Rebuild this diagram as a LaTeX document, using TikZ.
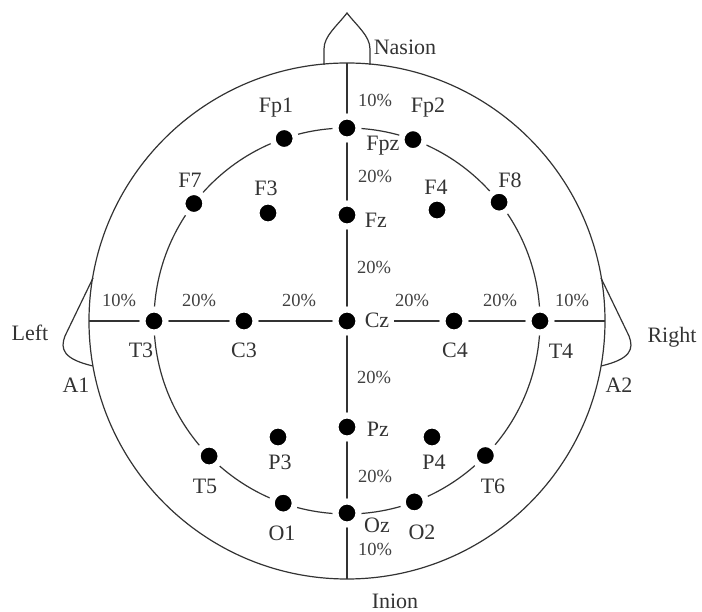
\documentclass[tikz,border=0pt]{standalone}
\usepackage{fontspec}
\setmainfont{Liberation Serif}
\def\rhead{258}
\def\rring{193}

\begin{document}
\begin{tikzpicture}[x=1pt, y=1pt, line width=1.2pt, draw=black!80,
  elec/.style={circle, fill=black, draw=white, line width=6pt, minimum size=23pt, inner sep=0pt},
  tag/.style={font=\fontsize{22}{22}\selectfont, text=black!80, inner sep=1pt},
  pct/.style={font=\fontsize{18.5}{18.5}\selectfont, text=black!75, inner sep=0pt}]
\useasboundingbox (-347,-291) rectangle (355,321);
% head, nose and ears
\draw (0,0) circle (\rhead);
\draw (-23,256) -- (-23,272) .. controls (-23,285) and (-10,295) .. (0,308)
      .. controls (10,295) and (23,285) .. (23,272) -- (23,256);
\draw (-254,43) -- (-282,-15) .. controls (-287,-28) and (-284,-38) .. (-254,-45);
\draw[xscale=-1] (-254,43) -- (-282,-15) .. controls (-287,-28) and (-284,-38) .. (-254,-45);
\coordinate (nasion) at (0,\rhead);
\coordinate (inion) at (0,-\rhead);
\coordinate (left) at (-\rhead,0);
\coordinate (right) at (\rhead,0);
\draw (nasion) -- (inion);
\draw (left) -- (right);
\draw (0,0) circle (\rring);

% electrodes on the ring
\node[elec] (Fpz) at (90:\rring) {};
\node[elec] (Fp1) at (109:\rring) {};
\node[elec] (Fp2) at (70:\rring) {};
\node[elec] (F7) at (142.5:\rring) {};
\node[elec] (F8) at (38:\rring) {};
\node[elec] (T3) at (180:\rring) {};
\node[elec] (T4) at (0:\rring) {};
\node[elec] (T5) at (224.4:\rring) {};
\node[elec] (T6) at (-44.2:\rring) {};
\node[elec] (O1) at (250.7:\rring) {};
\node[elec] (O2) at (290.4:\rring) {};
\node[elec] (Oz) at (270:\rring-1) {};
% inner electrodes
\node[elec] (F3) at (-79,108) {};
\node[elec] (Fz) at (0,106) {};
\node[elec] (F4) at (90,111) {};
\node[elec] (C3) at (-103,0) {};
\node[elec] (Cz) at (0,0) {};
\node[elec] (C4) at (107,0) {};
\node[elec] (P3) at (-69,-116) {};
\node[elec] (Pz) at (0,-106) {};
\node[elec] (P4) at (85,-116) {};

% names
\node[tag] (nasionl) at (58,274) {Nasion};
\node[tag] (inionl) at (48,-280) {Inion};
\node[tag] (leftl) at (-317,-12) {Left};
\node[tag] (rightl) at (325,-16) {Right};
\node[tag] (A1l) at (-271,-64) {A1};
\node[tag] (A2l) at (272,-64) {A2};
\node[tag] (Fp1l) at (-71,213) {Fp1};
\node[tag] (Fp2l) at (81,213) {Fp2};
\node[tag] (Fpzl) at (36,175) {Fpz};
\node[tag] (F7l) at (-157,141) {F7};
\node[tag] (F3l) at (-81,133) {F3};
\node[tag] (F4l) at (89,134) {F4};
\node[tag] (F8l) at (163,141) {F8};
\node[tag] (Fzl) at (29,101) {Fz};
\node[tag, fill=white, inner xsep=5pt] (Czl) at (30,1) {Cz};
\node[tag] (T3l) at (-206,-29) {T3};
\node[tag] (C3l) at (-103,-29) {C3};
\node[tag] (C4l) at (108,-29) {C4};
\node[tag] (T4l) at (214,-30) {T4};
\node[tag] (Pzl) at (31,-108) {Pz};
\node[tag] (P3l) at (-67,-141) {P3};
\node[tag] (P4l) at (87,-141) {P4};
\node[tag] (T5l) at (-142,-165) {T5};
\node[tag] (T6l) at (146,-165) {T6};
\node[tag] (O1l) at (-65,-212) {O1};
\node[tag] (Ozl) at (30,-204) {Oz};
\node[tag] (O2l) at (75,-211) {O2};

% distances
\node[pct] (p1) at (28,221) {10\%};
\node[pct] (p2) at (28,145) {20\%};
\node[pct] (p3) at (27,54) {20\%};
\node[pct] (p4) at (27,-56) {20\%};
\node[pct] (p5) at (28,-155) {20\%};
\node[pct] (p6) at (28,-228) {10\%};
\node[pct] (p7) at (-228,21) {10\%};
\node[pct] (p8) at (-148,21) {20\%};
\node[pct] (p9) at (-48,21) {20\%};
\node[pct] (p10) at (65,21) {20\%};
\node[pct] (p11) at (153,21) {20\%};
\node[pct] (p12) at (225,21) {10\%};
\end{tikzpicture}
\end{document}
